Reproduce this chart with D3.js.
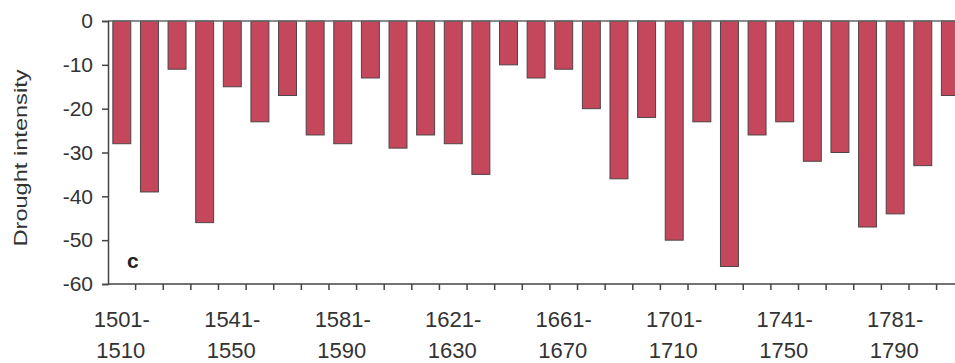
<!DOCTYPE html>
<html>
<head>
<meta charset="utf-8">
<script src="https://cdn.jsdelivr.net/npm/d3@7"></script>
<style>
  html, body { margin: 0; padding: 0; background: #fff; }
  svg { display: block; font-family: "Liberation Sans", Arial, sans-serif; }
</style>
</head>
<body>
<svg id="chart" width="955" height="363"></svg>
<script>
// ---- data ----
const periodStarts = [1501,1511,1521,1531,1541,1551,1561,1571,1581,1591,1601,1611,1621,1631,1641,1651,1661,1671,1681,1691,1701,1711,1721,1731,1741,1751,1761,1771,1781,1791,1801];
const droughtValues = [-28,-39,-11,-46,-15,-23,-17,-26,-28,-13,-29,-26,-28,-35,-10,-13,-11,-20,-36,-22,-50,-23,-56,-26,-23,-32,-30,-47,-44,-33,-17];
const yTicks = [0,-10,-20,-30,-40,-50,-60];
const labelledPeriods = [1501,1541,1581,1621,1661,1701,1741,1781];
const yTitle = "Drought intensity";
const panelLetter = "c";

// ---- layout ----
const svg = d3.select("#chart");
const mLeft = 108, mTop = 21, mBottom = 284;
const step = 27.62;
const mRight = mLeft + step * periodStarts.length;

const x = d3.scaleBand()
  .domain(periodStarts)
  .range([mLeft, mRight])
  .paddingInner(0.35)
  .paddingOuter(0.175);

const y = d3.scaleLinear().domain([0, -60]).range([mTop, mBottom]);

const textColor = "#333";
const axisColor = "#444";

// bars
svg.append("g").selectAll("rect")
  .data(periodStarts.map((p, i) => ({p, v: droughtValues[i]})))
  .join("rect")
  .attr("x", d => x(d.p))
  .attr("y", y(0))
  .attr("width", x.bandwidth())
  .attr("height", d => y(d.v) - y(0))
  .attr("fill", "#c4475c")
  .attr("stroke", "#4f4446")
  .attr("stroke-width", 1);

// zero line (top)
svg.append("line")
  .attr("x1", mLeft).attr("x2", 955)
  .attr("y1", y(0)).attr("y2", y(0))
  .attr("stroke", "#666").attr("stroke-width", 1.5);

// y axis
const yAxis = svg.append("g")
  .attr("transform", `translate(${mLeft},0)`)
  .call(d3.axisLeft(y).tickValues(yTicks).tickSize(6).tickPadding(9).tickFormat(d => String(d)));
yAxis.select(".domain").attr("stroke", axisColor).attr("stroke-width", 1.5);
yAxis.selectAll(".tick line").attr("stroke", axisColor).attr("stroke-width", 1.5);
yAxis.selectAll(".tick text")
  .attr("fill", textColor)
  .style("font-size", "21px")
  .style("font-family", "'Liberation Sans', Arial, sans-serif");

// x axis line
svg.append("line")
  .attr("x1", mLeft).attr("x2", 955)
  .attr("y1", mBottom).attr("y2", mBottom)
  .attr("stroke", axisColor).attr("stroke-width", 1.5);

// x ticks at band boundaries
const boundaries = periodStarts.slice(1).map(p => x(p) - x.step() * x.paddingInner() / 2);
svg.append("g").selectAll("line")
  .data(boundaries)
  .join("line")
  .attr("x1", d => d).attr("x2", d => d)
  .attr("y1", mBottom).attr("y2", mBottom + 6)
  .attr("stroke", axisColor).attr("stroke-width", 1.5);

// x labels (two lines)
const lab = svg.append("g").selectAll("text")
  .data(labelledPeriods)
  .join("text")
  .attr("text-anchor", "middle")
  .attr("fill", textColor)
  .style("font-size", "22px");
lab.append("tspan")
  .attr("x", d => x(d) + x.bandwidth() / 2)
  .attr("y", 327)
  .text(d => d + "-");
lab.append("tspan")
  .attr("x", d => x(d) + x.bandwidth() / 2 - 1)
  .attr("y", 358)
  .text(d => (d + 9));

// y title
svg.append("text")
  .attr("transform", `translate(27,158) rotate(-90)`)
  .attr("text-anchor", "middle")
  .attr("fill", textColor)
  .style("font-size", "19px")
  .attr("textLength", 177)
  .attr("lengthAdjust", "spacingAndGlyphs")
  .text(yTitle);

// panel letter
svg.append("text")
  .attr("x", 127).attr("y", 268)
  .attr("fill", "#222")
  .style("font-size", "21px")
  .style("font-weight", "bold")
  .text(panelLetter);
</script>
</body>
</html>
